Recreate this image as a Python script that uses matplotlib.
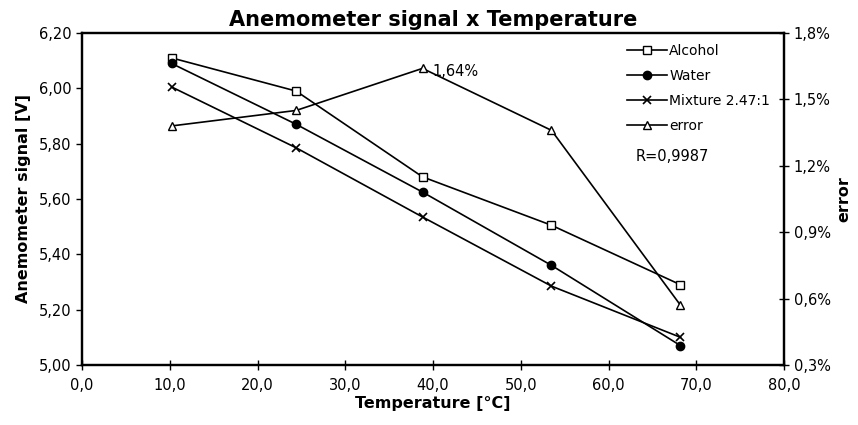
import matplotlib
matplotlib.use("Agg")
import matplotlib.pyplot as plt
from matplotlib.ticker import FuncFormatter, MultipleLocator

# data
temperature = [10.2, 24.4, 38.8, 53.5, 68.2]
alcohol = [6.11, 5.99, 5.68, 5.505, 5.29]
water = [6.09, 5.87, 5.625, 5.36, 5.07]
mixture = [6.005, 5.785, 5.535, 5.285, 5.10]
error_pct = [1.38, 1.45, 1.64, 1.36, 0.57]

plt.rcParams['font.family'] = ['DejaVu Sans']

fig = plt.figure(figsize=(8.58, 4.25), dpi=100)
ax = fig.add_axes([0.0956, 0.1412, 0.8182, 0.7812])
ax2 = ax.twinx()

style = dict(color='black', lw=1.2, markersize=6)
l1, = ax.plot(temperature, alcohol, marker='s', mfc='white', mec='black', label='Alcohol', **style)
l2, = ax.plot(temperature, water, marker='o', mfc='black', mec='black', label='Water', **style)
l3, = ax.plot(temperature, mixture, marker='x', mew=1.2, label='Mixture 2.47:1', **style)
l4, = ax2.plot(temperature, error_pct, marker='^', mfc='white', mec='black', label='error', **style)

# label on the error peak
ax2.annotate('1,64%', (temperature[2], error_pct[2]), xytext=(7, -2),
             textcoords='offset points', fontsize=10.5, va='center')

ax.set_xlim(0, 80)
ax.set_ylim(5.0, 6.2)
ax2.set_ylim(0.3, 1.8)
ax.xaxis.set_major_locator(MultipleLocator(10))
ax.yaxis.set_major_locator(MultipleLocator(0.2))
ax2.yaxis.set_major_locator(MultipleLocator(0.3))

ax.xaxis.set_major_formatter(FuncFormatter(lambda v, p: f'{v:.1f}'.replace('.', ',')))
ax.yaxis.set_major_formatter(FuncFormatter(lambda v, p: f'{v:.2f}'.replace('.', ',')))
ax2.yaxis.set_major_formatter(FuncFormatter(lambda v, p: f'{v:.1f}%'.replace('.', ',')))

ax.tick_params(axis='y', direction='out', length=4, width=1, labelsize=10.5)
ax.tick_params(axis='x', direction='inout', length=7, width=1, labelsize=10.5, pad=6)
ax2.tick_params(axis='y', direction='inout', length=7, width=1, labelsize=10.5)

for a in (ax, ax2):
    for s in a.spines.values():
        s.set_linewidth(1.6)

ax.set_title('Anemometer signal x Temperature', fontsize=15, fontweight='bold', pad=5)
ax.set_xlabel('Temperature [°C]', fontsize=11.5, fontweight='bold', labelpad=2)
ax.set_ylabel('Anemometer signal [V]', fontsize=11.5, fontweight='bold', labelpad=6)
ax2.set_ylabel('error', fontsize=11.5, fontweight='bold', labelpad=4)

leg = ax.legend(handles=[l1, l2, l3, l4], loc='upper left', bbox_to_anchor=(0.768, 0.985),
                frameon=False, fontsize=10, handlelength=2.9, handletextpad=0.15,
                labelspacing=0.8, borderaxespad=0)

ax.text(0.788, 0.627, 'R=0,9987', transform=ax.transAxes, fontsize=10.5, va='center')

fig.savefig('out.png', dpi=100)
